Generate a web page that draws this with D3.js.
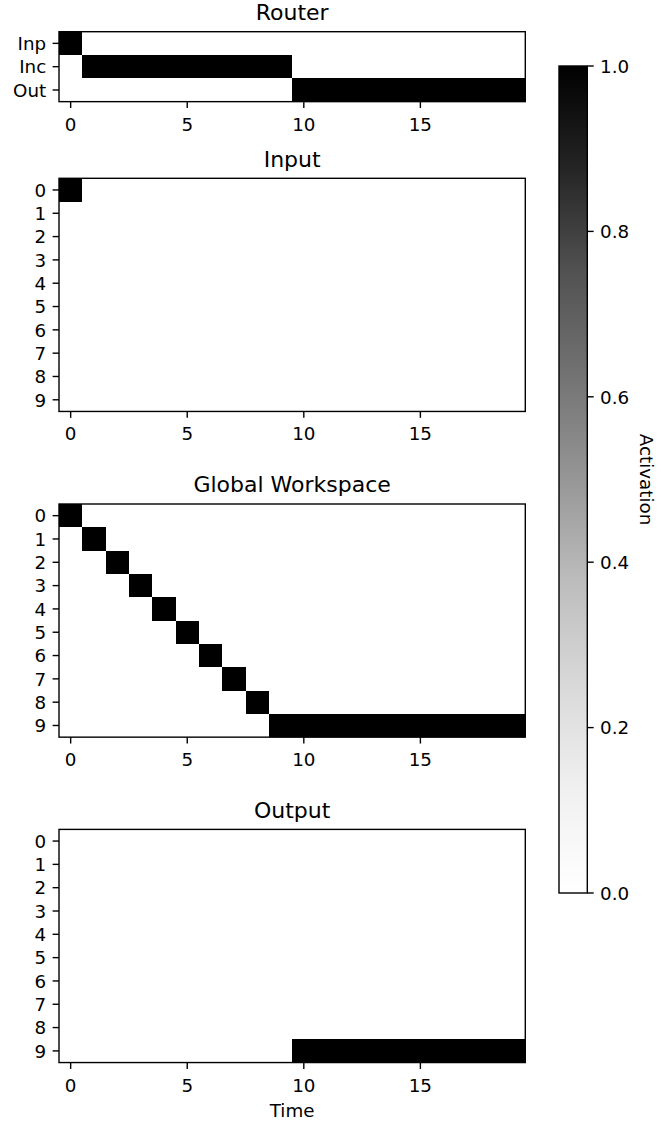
<!DOCTYPE html>
<html>
<head>
<meta charset="utf-8">
<script src="https://cdn.jsdelivr.net/npm/d3@7"></script>
<style>
  html, body { margin: 0; padding: 0; background: #fff; }
  svg { display: block; }
  text { font-family: "DejaVu Sans", sans-serif; fill: #000; }
</style>
</head>
<body>
<svg id="chart" width="663" height="1125"></svg>
<script>
// ---------------- data ----------------
const timeSteps = [0,1,2,3,4,5,6,7,8,9,10,11,12,13,14,15,16,17,18,19];
const xTickValues = [0, 5, 10, 15];
const colorbarTicks = [0.0, 0.2, 0.4, 0.6, 0.8, 1.0];
// matplotlib "Greys" colormap control colours
const greysStops = ["#ffffff","#f0f0f0","#d9d9d9","#bdbdbd","#969696","#737373","#525252","#252525","#000000"];

const routerLabels = ["Inp", "Inc", "Out"];
const routerValues = [
  [1,0,0,0,0,0,0,0,0,0,0,0,0,0,0,0,0,0,0,0],
  [0,1,1,1,1,1,1,1,1,1,0,0,0,0,0,0,0,0,0,0],
  [0,0,0,0,0,0,0,0,0,0,1,1,1,1,1,1,1,1,1,1]
];

const unitLabels = ["0","1","2","3","4","5","6","7","8","9"];

const inputValues = [
  [1,0,0,0,0,0,0,0,0,0,0,0,0,0,0,0,0,0,0,0],
  [0,0,0,0,0,0,0,0,0,0,0,0,0,0,0,0,0,0,0,0],
  [0,0,0,0,0,0,0,0,0,0,0,0,0,0,0,0,0,0,0,0],
  [0,0,0,0,0,0,0,0,0,0,0,0,0,0,0,0,0,0,0,0],
  [0,0,0,0,0,0,0,0,0,0,0,0,0,0,0,0,0,0,0,0],
  [0,0,0,0,0,0,0,0,0,0,0,0,0,0,0,0,0,0,0,0],
  [0,0,0,0,0,0,0,0,0,0,0,0,0,0,0,0,0,0,0,0],
  [0,0,0,0,0,0,0,0,0,0,0,0,0,0,0,0,0,0,0,0],
  [0,0,0,0,0,0,0,0,0,0,0,0,0,0,0,0,0,0,0,0],
  [0,0,0,0,0,0,0,0,0,0,0,0,0,0,0,0,0,0,0,0]
];

const workspaceValues = [
  [1,0,0,0,0,0,0,0,0,0,0,0,0,0,0,0,0,0,0,0],
  [0,1,0,0,0,0,0,0,0,0,0,0,0,0,0,0,0,0,0,0],
  [0,0,1,0,0,0,0,0,0,0,0,0,0,0,0,0,0,0,0,0],
  [0,0,0,1,0,0,0,0,0,0,0,0,0,0,0,0,0,0,0,0],
  [0,0,0,0,1,0,0,0,0,0,0,0,0,0,0,0,0,0,0,0],
  [0,0,0,0,0,1,0,0,0,0,0,0,0,0,0,0,0,0,0,0],
  [0,0,0,0,0,0,1,0,0,0,0,0,0,0,0,0,0,0,0,0],
  [0,0,0,0,0,0,0,1,0,0,0,0,0,0,0,0,0,0,0,0],
  [0,0,0,0,0,0,0,0,1,0,0,0,0,0,0,0,0,0,0,0],
  [0,0,0,0,0,0,0,0,0,1,1,1,1,1,1,1,1,1,1,1]
];

const outputValues = [
  [0,0,0,0,0,0,0,0,0,0,0,0,0,0,0,0,0,0,0,0],
  [0,0,0,0,0,0,0,0,0,0,0,0,0,0,0,0,0,0,0,0],
  [0,0,0,0,0,0,0,0,0,0,0,0,0,0,0,0,0,0,0,0],
  [0,0,0,0,0,0,0,0,0,0,0,0,0,0,0,0,0,0,0,0],
  [0,0,0,0,0,0,0,0,0,0,0,0,0,0,0,0,0,0,0,0],
  [0,0,0,0,0,0,0,0,0,0,0,0,0,0,0,0,0,0,0,0],
  [0,0,0,0,0,0,0,0,0,0,0,0,0,0,0,0,0,0,0,0],
  [0,0,0,0,0,0,0,0,0,0,0,0,0,0,0,0,0,0,0,0],
  [0,0,0,0,0,0,0,0,0,0,0,0,0,0,0,0,0,0,0,0],
  [0,0,0,0,0,0,0,0,0,0,1,1,1,1,1,1,1,1,1,1]
];

const panelTitles = ["Router", "Input", "Global Workspace", "Output"];
const colorbarLabel = "Activation";
const xAxisLabel = "Time";

// ---------------- layout ----------------
const svg = d3.select("#chart");
const defs = svg.append("defs");
const FS = 18.3;        // tick label font size
const TFS = 22;         // title font size
const tickLen = 6.4, tickPad = 6.4, lw = 1.4;
const left = 59, right = 525.3;
const cell = (right - left) / timeSteps.length;

const panels = [
  { title: panelTitles[0], labels: routerLabels, values: routerValues, top: 31.7 },
  { title: panelTitles[1], labels: unitLabels, values: inputValues, top: 178.3 },
  { title: panelTitles[2], labels: unitLabels, values: workspaceValues, top: 504.0 },
  { title: panelTitles[3], labels: unitLabels, values: outputValues, top: 829.4 }
];

const color = d3.scaleLinear()
  .domain(greysStops.map((c, i) => i / (greysStops.length - 1)))
  .range(greysStops)
  .interpolate(d3.interpolateRgb)
  .clamp(true);

const x = d3.scaleLinear().domain([-0.5, timeSteps.length - 0.5]).range([left, right]);

panels.forEach((p, pi) => {
  const n = p.labels.length;
  const bottom = p.top + n * cell;
  const y = d3.scaleLinear().domain([-0.5, n - 0.5]).range([p.top, bottom]);
  const g = svg.append("g");

  defs.append("clipPath").attr("id", "clip" + pi)
    .append("rect").attr("x", left).attr("y", p.top)
    .attr("width", right - left).attr("height", bottom - p.top);

  // cells
  const cells = [];
  p.values.forEach((row, r) => row.forEach((v, t) => cells.push({ r, t: timeSteps[t], v })));
  g.append("g").attr("clip-path", `url(#clip${pi})`)
    .selectAll("rect.cell").data(cells).enter().append("rect")
    .attr("class", "cell")
    .attr("shape-rendering", "crispEdges")
    .attr("x", d => x(d.t - 0.5))
    .attr("y", d => y(d.r - 0.5))
    .attr("width", x(0.5) - x(-0.5) + 1)
    .attr("height", y(0.5) - y(-0.5) + 1)
    .attr("fill", d => color(d.v));

  // frame
  g.append("rect")
    .attr("x", left).attr("y", p.top)
    .attr("width", right - left).attr("height", bottom - p.top)
    .attr("fill", "none").attr("stroke", "#000").attr("stroke-width", lw);

  // title
  g.append("text")
    .attr("x", (left + right) / 2).attr("y", p.top - 11.7)
    .attr("text-anchor", "middle").attr("font-size", TFS)
    .text(p.title);

  // y ticks
  p.labels.forEach((lab, i) => {
    const yy = y(i);
    g.append("line").attr("x1", left).attr("x2", left - tickLen)
      .attr("y1", yy).attr("y2", yy).attr("stroke", "#000").attr("stroke-width", lw);
    g.append("text").attr("x", left - tickLen - tickPad).attr("y", yy + 6.8)
      .attr("text-anchor", "end").attr("font-size", FS).text(lab);
  });

  // x ticks
  xTickValues.forEach(t => {
    const xx = x(t);
    g.append("line").attr("x1", xx).attr("x2", xx)
      .attr("y1", bottom).attr("y2", bottom + tickLen)
      .attr("stroke", "#000").attr("stroke-width", lw);
    g.append("text").attr("x", xx).attr("y", bottom + 29)
      .attr("text-anchor", "middle").attr("font-size", FS).text(t);
  });

  if (pi === panels.length - 1) {
    g.append("text").attr("x", (left + right) / 2).attr("y", bottom + 54.5)
      .attr("text-anchor", "middle").attr("font-size", FS).text(xAxisLabel);
  }
});

// ---------------- colorbar ----------------
const cbX0 = 559, cbX1 = 587.3, cbTop = 66, cbBottom = 893;
const cbScale = d3.scaleLinear().domain([0, 1]).range([cbBottom, cbTop]);
const grad = defs.append("linearGradient").attr("id", "cbgrad")
  .attr("x1", 0).attr("y1", 1).attr("x2", 0).attr("y2", 0);
greysStops.forEach((c, i) => {
  grad.append("stop").attr("offset", i / (greysStops.length - 1)).attr("stop-color", c);
});
svg.append("rect").attr("x", cbX0).attr("y", cbTop)
  .attr("width", cbX1 - cbX0).attr("height", cbBottom - cbTop)
  .attr("fill", "url(#cbgrad)").attr("stroke", "#000").attr("stroke-width", lw);

colorbarTicks.forEach(v => {
  const yy = cbScale(v);
  svg.append("line").attr("x1", cbX1).attr("x2", cbX1 + tickLen)
    .attr("y1", yy).attr("y2", yy).attr("stroke", "#000").attr("stroke-width", lw);
  svg.append("text").attr("x", cbX1 + tickLen + tickPad).attr("y", yy + 6.8)
    .attr("font-size", FS).text(v.toFixed(1));
});

svg.append("text")
  .attr("transform", `translate(640, ${(cbTop + cbBottom) / 2}) rotate(90)`)
  .attr("text-anchor", "middle").attr("font-size", FS)
  .text(colorbarLabel);
</script>
</body>
</html>
